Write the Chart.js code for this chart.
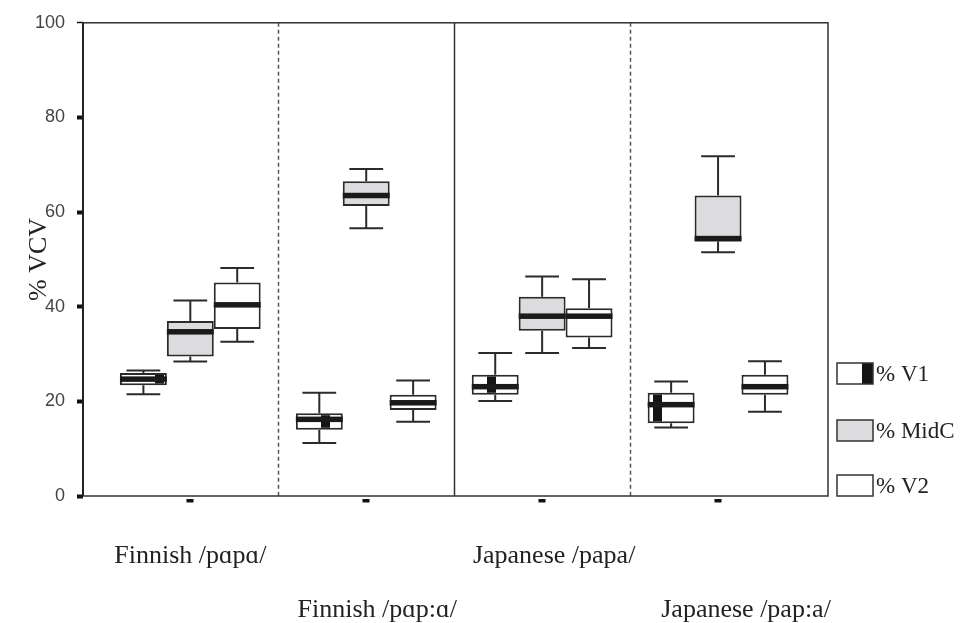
<!DOCTYPE html>
<html>
<head>
<meta charset="utf-8">
<script src="https://cdn.jsdelivr.net/npm/chart.js@4.4.1/dist/chart.umd.min.js"></script>
<style>
  html, body { margin: 0; padding: 0; background: #fff; }
  #wrap { width: 965px; height: 623px; }
</style>
</head>
<body>
<div id="wrap"><canvas id="c" width="965" height="623"></canvas></div>
<script>
// Word conditions (x categories)
const categories = ['Finnish /pɑpɑ/', 'Finnish /pɑp:ɑ/', 'Japanese /papa/', 'Japanese /pap:a/'];
const seriesNames = ['% V1', '% MidC', '% V2'];
const yTicks = [0, 20, 40, 60, 80, 100];

// % V1 : whisker low, Q1, median, Q3, whisker high
const v1Low  = [21.5, 11.2, 20.1, 14.5];
const v1Q1   = [23.4, 14.0, 21.4, 15.4];
const v1Med  = [24.7, 16.2, 23.1, 19.3];
const v1Q3   = [26.0, 17.5, 25.6, 21.8];
const v1High = [26.5, 21.8, 30.2, 24.2];

// % MidC
const midLow  = [28.4, 56.6, 30.2, 51.5];
const midQ1   = [29.5, 61.3, 34.9, 53.8];
const midMed  = [34.7, 63.5, 38.0, 54.4];
const midQ3   = [37.0, 66.5, 42.1, 63.5];
const midHigh = [41.3, 69.1, 46.4, 71.8];

// % V2
const v2Low  = [32.6, 15.7, 31.3, 17.8];
const v2Q1   = [35.3, 18.2, 33.5, 21.4];
const v2Med  = [40.4, 19.7, 38.0, 23.1];
const v2Q3   = [45.1, 21.4, 39.7, 25.6];
const v2High = [48.2, 24.4, 45.8, 28.5];

const canvas = document.getElementById('c');
const ctx2d = canvas.getContext('2d');

// striped fill used by the V1 boxes
const stripe = document.createElement('canvas');
stripe.width = 166; stripe.height = 4;
const sctx = stripe.getContext('2d');
sctx.fillStyle = '#ffffff'; sctx.fillRect(0, 0, 166, 4);
sctx.fillStyle = '#151515'; sctx.fillRect(155, 0, 9, 4);
const v1Fill = ctx2d.createPattern(stripe, 'repeat');

const BOX_LINE = '#2b2b2b';
const MID_FILL = '#dcdcdf';

function boxes(q1, q3) {
  return categories.map((_, i) => ({ x: i, y: [q1[i], q3[i]] }));
}

function makeSet(label, q1, q3, low, med, high, fill) {
  return {
    label: label,
    data: boxes(q1, q3),
    stats: { low: low, med: med, high: high },
    backgroundColor: fill,
    borderColor: BOX_LINE,
    borderWidth: 2,
    borderSkipped: false,
    categoryPercentage: 0.8,
    barPercentage: 1.0
  };
}

const boxPlot = {
  id: 'boxPlot',
  beforeDatasetsDraw(chart) {
    const ctx = chart.ctx;
    const ys = chart.scales.y;
    const area = chart.chartArea;
    const xs = chart.scales.x;
    ctx.save();
    // group separators
    [0.5, 1.5, 2.5].forEach((v, k) => {
      const px = Math.round(xs.getPixelForValue(v)) + 0.5;
      ctx.beginPath();
      ctx.lineWidth = 1.5;
      ctx.strokeStyle = k === 1 ? '#333' : '#555';
      ctx.setLineDash(k === 1 ? [] : [4, 3]);
      ctx.moveTo(px, area.top);
      ctx.lineTo(px, area.bottom);
      ctx.stroke();
    });
    ctx.setLineDash([]);
    // whiskers
    chart.data.datasets.forEach((ds, d) => {
      const meta = chart.getDatasetMeta(d);
      meta.data.forEach((bar, i) => {
        const p = bar.getProps(['x', 'width'], true);
        const cap = p.width * 0.72;
        const yQ1 = ys.getPixelForValue(ds.data[i].y[0]);
        const yQ3 = ys.getPixelForValue(ds.data[i].y[1]);
        const yLo = ys.getPixelForValue(ds.stats.low[i]);
        const yHi = ys.getPixelForValue(ds.stats.high[i]);
        ctx.strokeStyle = BOX_LINE;
        ctx.lineWidth = 2;
        ctx.beginPath();
        ctx.moveTo(p.x, yQ3); ctx.lineTo(p.x, yHi);
        ctx.moveTo(p.x - cap / 2, yHi); ctx.lineTo(p.x + cap / 2, yHi);
        ctx.moveTo(p.x, yQ1); ctx.lineTo(p.x, yLo);
        ctx.moveTo(p.x - cap / 2, yLo); ctx.lineTo(p.x + cap / 2, yLo);
        ctx.stroke();
      });
    });
    ctx.restore();
  },
  afterDatasetsDraw(chart) {
    const ctx = chart.ctx;
    const ys = chart.scales.y;
    const xs = chart.scales.x;
    const area = chart.chartArea;
    ctx.save();
    // medians
    chart.data.datasets.forEach((ds, d) => {
      const meta = chart.getDatasetMeta(d);
      meta.data.forEach((bar, i) => {
        const p = bar.getProps(['x', 'width'], true);
        const ym = ys.getPixelForValue(ds.stats.med[i]);
        ctx.fillStyle = '#1a1a1a';
        ctx.fillRect(p.x - p.width / 2, ym - 2.75, p.width, 5.5);
      });
    });
    // frame
    ctx.strokeStyle = '#333';
    ctx.lineWidth = 1.5;
    ctx.strokeRect(area.left, area.top, area.right - area.left, area.bottom - area.top);
    ctx.lineWidth = 2;
    ctx.strokeStyle = '#222';
    ctx.beginPath();
    ctx.moveTo(area.left, area.top); ctx.lineTo(area.left, area.bottom);
    ctx.stroke();
    // category tick marks
    ctx.fillStyle = '#111';
    categories.forEach((_, i) => {
      const px = xs.getPixelForValue(i);
      ctx.fillRect(Math.round(px) - 3.5, area.bottom + 3, 7, 3.5);
    });
    // category labels, staggered over two rows and nudged right for later groups
    const nudge = [0, 11, 12, 28];
    ctx.fillStyle = '#222';
    ctx.font = '26px "Liberation Serif"';
    ctx.textAlign = 'center';
    ctx.textBaseline = 'alphabetic';
    categories.forEach((lab, i) => {
      const px = xs.getPixelForValue(i) + nudge[i];
      const y = area.bottom + (i % 2 === 0 ? 67 : 121);
      ctx.fillText(lab, px, y);
    });
    // legend
    const lx = area.right + 9;
    const centers = [area.bottom - 122.5, area.bottom - 65.5, area.bottom - 10.5];
    const fills = ['#ffffff', MID_FILL, '#ffffff'];
    ctx.font = '23px "Liberation Serif"';
    ctx.textAlign = 'left';
    ctx.textBaseline = 'middle';
    seriesNames.forEach((name, k) => {
      const top = centers[k] - 10.5;
      ctx.fillStyle = fills[k];
      ctx.fillRect(lx, top, 36, 21);
      if (k === 0) {
        ctx.fillStyle = '#151515';
        ctx.fillRect(lx + 25, top, 11, 21);
      }
      ctx.strokeStyle = '#333';
      ctx.lineWidth = 1.5;
      ctx.strokeRect(lx, top, 36, 21);
      ctx.fillStyle = '#222';
      ctx.fillText(name, lx + 39, centers[k] + 1);
    });
    ctx.restore();
  }
};

new Chart(canvas, {
  type: 'bar',
  data: {
    datasets: [
      makeSet(seriesNames[0], v1Q1, v1Q3, v1Low, v1Med, v1High, v1Fill),
      makeSet(seriesNames[1], midQ1, midQ3, midLow, midMed, midHigh, MID_FILL),
      makeSet(seriesNames[2], v2Q1, v2Q3, v2Low, v2Med, v2High, '#ffffff')
    ]
  },
  options: {
    responsive: false,
    animation: false,
    devicePixelRatio: 1,
    layout: { padding: { left: 0, top: 14, right: 137, bottom: 127 } },
    plugins: {
      legend: { display: false },
      tooltip: { enabled: false },
      title: { display: false }
    },
    scales: {
      x: {
        type: 'linear',
        offset: false,
        min: -0.61,
        max: 3.625,
        ticks: { display: false },
        grid: { display: false, offset: false },
        border: { display: false },
        afterBuildTicks(scale) {
          scale.ticks = categories.map((_, i) => ({ value: i }));
        },
        afterFit(scale) { scale.height = 0; }
      },
      y: {
        min: 0,
        max: 100,
        afterBuildTicks(scale) {
          scale.ticks = yTicks.map(v => ({ value: v }));
        },
        ticks: {
          color: '#444',
          padding: 12,
          font: { family: 'Liberation Sans', size: 18 }
        },
        grid: {
          drawOnChartArea: false,
          drawTicks: true,
          tickLength: 6,
          tickColor: '#111',
          tickWidth: (c) => (c.tick && c.tick.value === 100 ? 1.5 : 4)
        },
        border: { display: false },
        title: {
          display: true,
          text: '% VCV',
          color: '#222',
          font: { family: 'Liberation Serif', size: 26 },
          padding: { top: 24, bottom: 0 }
        },
        afterFit(scale) { scale.width = 83; }
      }
    }
  },
  plugins: [boxPlot]
});
</script>
</body>
</html>
